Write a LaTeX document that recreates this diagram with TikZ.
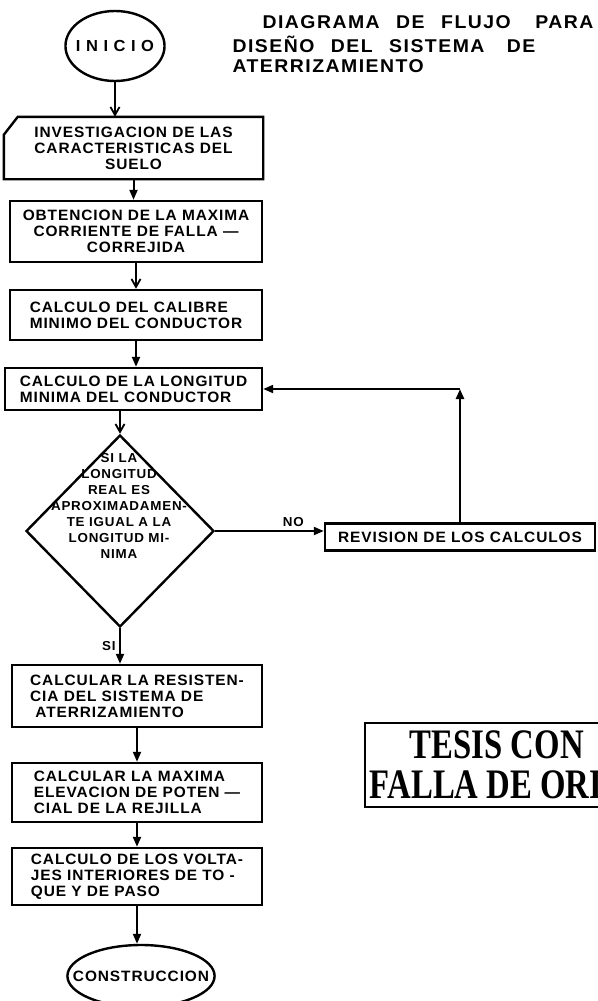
\documentclass[tikz,border=0pt]{standalone}
\usepackage{fontspec}
\newfontfamily\cajafont{Liberation Sans}[FakeStretch=1.03,LetterSpace=6,BoldFont=* Bold]
\newfontfamily\titulofont{Liberation Sans}[FakeStretch=1.05,LetterSpace=8,WordSpace=2.4,BoldFont=* Bold]
\newfontfamily\tesisfont{Liberation Serif}[FakeStretch=0.78,BoldFont=* Bold]
\usetikzlibrary{shapes.geometric,arrows.meta}

\begin{document}
\begin{tikzpicture}[x=1pt,y=-1pt,
  caja/.style={draw=black,line width=2.4pt,inner sep=2pt,font=\cajafont\bfseries\fontsize{15}{16}\selectfont},
  flecha/.style={line width=2pt,-{Triangle[length=10pt,width=8pt]}},
  flechav/.style={line width=1.8pt,-{Straight Barb[length=8pt,width=9pt]}},
  etiq/.style={font=\cajafont\bfseries\fontsize{13}{15}\selectfont}]
\useasboundingbox (0,0) rectangle (597,1001);
% titulo
\node[anchor=west,font=\titulofont\bfseries\fontsize{18.5}{20}\selectfont] (tit1) at (259,22) {DIAGRAMA DE FLUJO\hspace{8pt} PARA};
\node[anchor=west,font=\titulofont\bfseries\fontsize{18.5}{20}\selectfont] (tit2) at (229,44) {DISEÑO DEL SISTEMA\hspace{6pt} DE};
\node[anchor=west,font=\titulofont\bfseries\fontsize{18.5}{20}\selectfont] (tit3) at (229,66) {ATERRIZAMIENTO};
% nodos
\node[caja,ellipse,inner xsep=-4pt,inner ysep=0pt,minimum height=70pt,font=\cajafont\bfseries\fontsize{16}{18}\selectfont] (inicio) at (115,46) {I N I C I O};
\node[caja,draw=none,align=center,minimum width=257pt,minimum height=60pt] (inv) at (133.5,148) {INVESTIGACION DE LAS\\CARACTERISTICAS DEL\\SUELO};
\draw[line width=2.4pt] (inv.south west) -- ([yshift=-18pt]inv.north west) -- ([xshift=14pt]inv.north west) -- (inv.north east) -- (inv.south east) -- cycle;
\node[caja,align=center,minimum width=252pt,minimum height=61pt] (obt) at (136,231.5) {OBTENCION DE LA MAXIMA\\CORRIENTE DE FALLA —\\CORREJIDA};
\node[caja,align=left,minimum width=252pt,minimum height=50pt] (cal) at (136,315) {CALCULO DEL CALIBRE\\MINIMO DEL CONDUCTOR};
\node[caja,align=left,minimum width=257pt,minimum height=42pt] (lon) at (133.5,389) {CALCULO DE LA LONGITUD\\MINIMA DEL CONDUCTOR};
\node[draw=black,line width=2.4pt,diamond,inner sep=0pt,minimum width=188pt,minimum height=192pt] (dec) at (120,531) {};
\node[align=center,font=\cajafont\bfseries\fontsize{13}{16}\selectfont] (dectxt) at (119,506) {SI LA\\LONGITUD\\REAL ES\\APROXIMADAMEN-\\TE IGUAL A LA\\LONGITUD MI-\\NIMA};
\node[caja,minimum width=270pt,minimum height=27pt,inner sep=1pt,font=\cajafont\bfseries\fontsize{15}{17}\selectfont] (rev) at (460,537) {REVISION DE LOS CALCULOS};
\node[caja,align=left,minimum width=250pt,minimum height=62pt] (res) at (137,696) {CALCULAR LA RESISTEN-\\CIA DEL SISTEMA DE\\\ ATERRIZAMIENTO};
\node[caja,align=left,minimum width=250pt,minimum height=59pt] (max) at (137,792.5) {CALCULAR LA MAXIMA\\ELEVACION DE POTEN —\\CIAL DE LA REJILLA};
\node[caja,align=left,minimum width=250pt,minimum height=57pt] (vol) at (137,876.5) {CALCULO DE LOS VOLTA-\\JES INTERIORES DE TO -\\QUE Y DE PASO};
\node[caja,ellipse,inner xsep=-16pt,inner ysep=0pt,minimum height=62pt] (cons) at (141,976) {CONSTRUCCION};
\node[draw=black,line width=1.8pt,align=left,inner sep=5pt,minimum height=84pt,anchor=north west,font=\tesisfont\bfseries\fontsize{42}{40}\selectfont] (tesis) at (364,722) {\hspace*{40pt}TESIS CON\\FALLA DE ORIGEN};
\coordinate (esq) at (rev.north |- lon.east);
% conexiones
\draw[flechav] (inicio.south) -- (inicio.south |- inv.north);
\draw[flecha] (inv.south) -- (inv.south |- obt.north);
\draw[flechav] (obt.south) -- (obt.south |- cal.north);
\draw[flecha] (cal.south) -- (cal.south |- lon.north);
\draw[flechav] (dec.north |- lon.south) -- (dec.north);
\draw[flecha] (dec.east) -- node[etiq,pos=0.72,above] {NO} (dec.east -| rev.west);
\draw[flecha,line width=2.6pt] (rev.north) -- (esq);
\draw[flecha] (esq) -- (lon.east);
\draw[flecha] (dec.south) -- node[etiq,left] {SI} (dec.south |- res.north);
\draw[flecha] (res.south) -- (res.south |- max.north);
\draw[flecha] (max.south) -- (max.south |- vol.north);
\draw[flecha] (vol.south) -- (vol.south |- cons.north);
\end{tikzpicture}
\end{document}
